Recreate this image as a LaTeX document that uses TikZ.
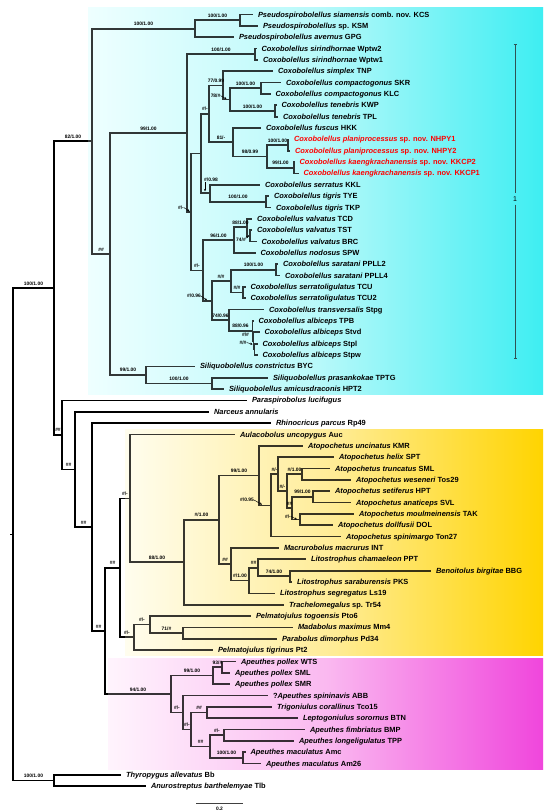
\documentclass[tikz,border=0pt]{standalone}
\usepackage{fontspec}
\setmainfont{Liberation Sans}
\usetikzlibrary{arrows.meta}
\pgfdeclarelayer{boxes}
\pgfdeclarelayer{branches}
\pgfdeclarelayer{tint}
\pgfsetlayers{boxes,branches,tint,main}
\definecolor{cyL}{RGB}{238,255,255}
\definecolor{cyM}{RGB}{185,249,250}
\definecolor{cyR}{RGB}{62,238,242}
\definecolor{yeL}{RGB}{255,253,238}
\definecolor{yeM}{RGB}{255,236,150}
\definecolor{yeR}{RGB}{255,212,0}
\definecolor{piL}{RGB}{255,244,253}
\definecolor{piM}{RGB}{250,185,240}
\definecolor{piR}{RGB}{240,70,220}
\pgfdeclarehorizontalshading{cyanshade}{100bp}{color(0bp)=(cyL); color(25bp)=(cyL); color(50bp)=(cyM); color(75bp)=(cyR); color(100bp)=(cyR)}
\pgfdeclarehorizontalshading{yelshade}{100bp}{color(0bp)=(yeL); color(25bp)=(yeL); color(50bp)=(yeM); color(75bp)=(yeR); color(100bp)=(yeR)}
\pgfdeclarehorizontalshading{pinkshade}{100bp}{color(0bp)=(piL); color(25bp)=(piL); color(50bp)=(piM); color(75bp)=(piR); color(100bp)=(piR)}
\begin{document}
\begin{tikzpicture}[x=1pt,y=-1pt,
  br/.style={line width=1.7pt, line join=miter, black},
  tip/.style={anchor=west, inner xsep=5pt, inner ysep=0pt, outer sep=0pt, text height=5.3pt, text depth=0.2pt, font=\fontsize{7.45}{8.5}\selectfont\bfseries},
  newsp/.style={tip, text=red},
  sup/.style={anchor=base, inner sep=0pt, font=\fontsize{4.9}{5}\selectfont\bfseries},
  mk/.style={line width=0.45pt, -{Stealth[length=2.4pt,width=2.2pt]}},
  cladebar/.style={line width=0.9pt, black!85},
  box/.style={}]
\useasboundingbox (0,0) rectangle (550,811);

% ---------- coloured boxes ----------
\begin{pgfonlayer}{boxes}
  \shade[shading=cyanshade] (88,7) rectangle (543,394.5);
  \shade[shading=yelshade] (125,429) rectangle (543,655.5);
  \shade[shading=pinkshade] (108,658) rectangle (543,769);
\end{pgfonlayer}
\begin{pgfonlayer}{tint}
  \shade[shading=cyanshade, opacity=0.22] (88,7) rectangle (543,394.5);
  \shade[shading=yelshade, opacity=0.22] (125,429) rectangle (543,655.5);
  \shade[shading=pinkshade, opacity=0.22] (108,658) rectangle (543,769);
\end{pgfonlayer}

% ---------- internal nodes ----------
\coordinate (root) at (13,534.37);
\coordinate (rootstub) at (10,534.37);
\coordinate (nA) at (54,288.11);
\coordinate (nTh) at (54,780.63);
\coordinate (nCy) at (92,141.33);
\coordinate (nPs) at (195,28.69);
\coordinate (nPs2) at (240,20.18);
\coordinate (nCS) at (110,253.98);
\coordinate (nCox) at (187,133.10);
\coordinate (nSir) at (255,54.23);
\coordinate (C2) at (191,211.98);
\coordinate (nTop) at (201,153.54);
\coordinate (nAB) at (209,113.81);
\coordinate (n77) at (223,85.44);
\coordinate (n78) at (230,99.63);
\coordinate (nCK) at (261,88.28);
\coordinate (nTe) at (275,110.98);
\coordinate (n81) at (233,142.19);
\coordinate (n98) at (267,156.38);
\coordinate (nNH) at (288,145.03);
\coordinate (nKK) at (294,167.73);
\coordinate (nKL) at (210,193.26);
\coordinate (nTi) at (266,201.78);
\coordinate (nBot) at (203,270.41);
\coordinate (nVa) at (234,240.08);
\coordinate (nTC) at (247,227.31);
\coordinate (nTB) at (250,235.83);
\coordinate (n096) at (212,300.73);
\coordinate (nSS) at (231,281.23);
\coordinate (nSa) at (276,269.88);
\coordinate (nSe) at (243,292.58);
\coordinate (n74) at (229,320.24);
\coordinate (nAl1) at (252.5,330.88);
\coordinate (nAl2) at (253.5,340.81);
\coordinate (nAl3) at (254.5,349.33);
\coordinate (nSi) at (146,374.86);
\coordinate (nSi2) at (212,383.38);
\coordinate (n62) at (62,434.9);
\coordinate (n75) at (75,469.39);
\coordinate (n92) at (92,527.04);
\coordinate (n105) at (105,630.97);
\coordinate (n120) at (120,567.86);
\coordinate (n130) at (130,498.38);
\coordinate (n184) at (184,562.31);
\coordinate (n219) at (219,519.93);
\coordinate (n259) at (259,475.59);
\coordinate (n271) at (271,505.39);
\coordinate (n278) at (278,474.18);
\coordinate (n287) at (287,491.2);
\coordinate (n302) at (302,474.18);
\coordinate (n292) at (292,508.23);
\coordinate (n313) at (313,496.88);
\coordinate (n300) at (300,519.58);
\coordinate (n231) at (231,564.27);
\coordinate (n249) at (249,580.58);
\coordinate (n258) at (258,567.81);
\coordinate (n290) at (290,576.33);
\coordinate (n134) at (134,637.33);
\coordinate (n150) at (150,624.56);
\coordinate (n183) at (183,633.08);
\coordinate (nAp) at (171,694.08);
\coordinate (nPo) at (213,675.64);
\coordinate (nPo2) at (222,667.13);
\coordinate (nA183) at (183,712.53);
\coordinate (nA191) at (191,729.55);
\coordinate (nTB2) at (207,712.53);
\coordinate (nA210) at (210,746.58);
\coordinate (nBT) at (224,735.23);
\coordinate (nMa) at (243,757.93);

% ---------- tips ----------
\node[tip] (t1) at (253,14.5) {\textit{Pseudospirobolellus siamensis} comb. nov. KCS};
\node[tip] (t2) at (258,25.85) {\textit{Pseudospirobolellus} sp. KSM};
\node[tip] (t3) at (234,37.2) {\textit{Pseudospirobolellus avernus} GPG};
\node[tip] (t4) at (256.5,48.55) {\textit{Coxobolellus sirindhornae} Wptw2};
\node[tip] (t5) at (258,59.9) {\textit{Coxobolellus sirindhornae} Wptw1};
\node[tip] (t6) at (273,71.25) {\textit{Coxobolellus simplex} TNP};
\node[tip] (t7) at (281,82.6) {\textit{Coxobolellus compactogonus} SKR};
\node[tip] (t8) at (270.5,93.95) {\textit{Coxobolellus compactogonus} KLC};
\node[tip] (t9) at (276.5,105.3) {\textit{Coxobolellus tenebris} KWP};
\node[tip] (t10) at (278,116.65) {\textit{Coxobolellus tenebris} TPL};
\node[tip] (t11) at (261,128) {\textit{Coxobolellus fuscus} HKK};
\node[newsp] (t12) at (289,139.35) {\textit{Coxobolellus planiprocessus} sp. nov. NHPY1};
\node[newsp] (t13) at (290,150.7) {\textit{Coxobolellus planiprocessus} sp. nov. NHPY2};
\node[newsp] (t14) at (294.5,162.05) {\textit{Coxobolellus kaengkrachanensis} sp. nov. KKCP2};
\node[newsp] (t15) at (298.5,173.4) {\textit{Coxobolellus kaengkrachanensis} sp. nov. KKCP1};
\node[tip] (t16) at (260,184.75) {\textit{Coxobolellus serratus} KKL};
\node[tip] (t17) at (269,196.1) {\textit{Coxobolellus tigris} TYE};
\node[tip] (t18) at (271,207.45) {\textit{Coxobolellus tigris} TKP};
\node[tip] (t19) at (252,218.8) {\textit{Coxobolellus valvatus} TCD};
\node[tip] (t20) at (252,230.15) {\textit{Coxobolellus valvatus} TST};
\node[tip] (t21) at (256.5,241.5) {\textit{Coxobolellus valvatus} BRC};
\node[tip] (t22) at (255.5,252.85) {\textit{Coxobolellus nodosus} SPW};
\node[tip] (t23) at (278,264.2) {\textit{Coxobolellus saratani} PPLL2};
\node[tip] (t24) at (280,275.55) {\textit{Coxobolellus saratani} PPLL4};
\node[tip] (t25) at (245.5,286.9) {\textit{Coxobolellus serratoligulatus} TCU};
\node[tip] (t26) at (245.5,298.25) {\textit{Coxobolellus serratoligulatus} TCU2};
\node[tip] (t27) at (264,309.6) {\textit{Coxobolellus transversalis} Stpg};
\node[tip] (t28) at (253.5,320.95) {\textit{Coxobolellus albiceps} TPB};
\node[tip] (t29) at (259.5,332.3) {\textit{Coxobolellus albiceps} Stvd};
\node[tip] (t30) at (257.5,343.65) {\textit{Coxobolellus albiceps} Stpl};
\node[tip] (t31) at (257.5,355) {\textit{Coxobolellus albiceps} Stpw};
\node[tip] (t32) at (195,366.35) {\textit{Siliquobolellus constrictus} BYC};
\node[tip] (t33) at (268,377.7) {\textit{Siliquobolellus prasankokae} TPTG};
\node[tip] (t34) at (224,389.05) {\textit{Siliquobolellus amicusdraconis} HPT2};
\node[tip] (t35) at (247,400.4) {\textit{Paraspirobolus lucifugus}};
\node[tip] (t36) at (209,411.75) {\textit{Narceus annularis}};
\node[tip] (t37) at (271,423.1) {\textit{Rhinocricus parcus} Rp49};
\node[tip] (t38) at (235,434.45) {\textit{Aulacobolus uncopygus} Auc};
\node[tip] (t39) at (303,445.8) {\textit{Atopochetus uncinatus} KMR};
\node[tip] (t40) at (334,457.15) {\textit{Atopochetus helix} SPT};
\node[tip] (t41) at (330,468.5) {\textit{Atopochetus truncatus} SML};
\node[tip] (t42) at (351,479.85) {\textit{Atopochetus weseneri} Tos29};
\node[tip] (t43) at (330,491.2) {\textit{Atopochetus setiferus} HPT};
\node[tip] (t44) at (351,502.55) {\textit{Atopochetus anaticeps} SVL};
\node[tip] (t45) at (354,513.9) {\textit{Atopochetus moulmeinensis} TAK};
\node[tip] (t46) at (333,525.25) {\textit{Atopochetus dollfusii} DOL};
\node[tip] (t47) at (341,536.6) {\textit{Atopochetus spinimargo} Ton27};
\node[tip] (t48) at (279,547.95) {\textit{Macrurobolus macrurus} INT};
\node[tip] (t49) at (306,559.3) {\textit{Litostrophus chamaeleon} PPT};
\node[tip] (t50) at (431,570.65) {\textit{Benoitolus birgitae} BBG};
\node[tip] (t51) at (292,582) {\textit{Litostrophus saraburensis} PKS};
\node[tip] (t52) at (275,593.35) {\textit{Litostrophus segregatus} Ls19};
\node[tip] (t53) at (284,604.7) {\textit{Trachelomegalus} sp. Tr54};
\node[tip] (t54) at (251,616.05) {\textit{Pelmatojulus togoensis} Pto6};
\node[tip] (t55) at (293,627.4) {\textit{Madabolus maximus} Mm4};
\node[tip] (t56) at (277,638.75) {\textit{Parabolus dimorphus} Pd34};
\node[tip] (t57) at (213,650.1) {\textit{Pelmatojulus tigrinus} Pt2};
\node[tip] (t58) at (236,661.45) {\textit{Apeuthes pollex} WTS};
\node[tip] (t59) at (230,672.8) {\textit{Apeuthes pollex} SML};
\node[tip] (t60) at (230,684.15) {\textit{Apeuthes pollex} SMR};
\node[tip] (t61) at (268,695.5) {?\textit{Apeuthes spininavis} ABB};
\node[tip] (t62) at (272,706.85) {\textit{Trigoniulus corallinus} Tco15};
\node[tip] (t63) at (298,718.2) {\textit{Leptogoniulus sorornus} BTN};
\node[tip] (t64) at (305,729.55) {\textit{Apeuthes fimbriatus} BMP};
\node[tip] (t65) at (294,740.9) {\textit{Apeuthes longeligulatus} TPP};
\node[tip] (t66) at (245.5,752.25) {\textit{Apeuthes maculatus} Amc};
\node[tip] (t67) at (261,763.6) {\textit{Apeuthes maculatus} Am26};
\node[tip] (t68) at (121,774.95) {\textit{Thyropygus allevatus} Bb};
\node[tip] (t69) at (146,786.3) {\textit{Anurostreptus barthelemyae} Tlb};

% ---------- clade bar and scale bar ----------
\coordinate (barT) at (515,44);
\coordinate (barB) at (515,359);
\node[inner sep=3pt, font=\fontsize{7}{8}\selectfont] (one) at (515,199) {1};
\coordinate (sbL) at (196,803.5);
\coordinate (sbR) at (243,803.5);
\node[sup] (sblab) at (219.5,810.6) {0.2};

% ---------- branches ----------
\begin{pgfonlayer}{branches}
  \draw[br] (root) -- (rootstub);
  \foreach \p/\c in {root/nA, root/nTh, nA/nCy, nA/n62, nTh/t68, nTh/t69,
    nCy/nPs, nCy/nCS, nPs/nPs2, nPs/t3, nPs2/t1, nPs2/t2,
    nCS/nCox, nCS/nSi, nCox/nSir, nCox/C2, nSir/t4, nSir/t5,
    C2/nTop, C2/nBot, nTop/nAB, nTop/nKL, nAB/n77, nAB/n81,
    n77/t6, n77/n78, n78/nCK, n78/nTe, nCK/t7, nCK/t8, nTe/t9, nTe/t10,
    n81/t11, n81/n98, n98/nNH, n98/nKK, nNH/t12, nNH/t13, nKK/t14, nKK/t15,
    nKL/t16, nKL/nTi, nTi/t17, nTi/t18,
    nBot/nVa, nBot/n096, nVa/nTC, nVa/t22, nTC/t19, nTC/nTB, nTB/t20, nTB/t21,
    n096/nSS, n096/n74, nSS/nSa, nSS/nSe, nSa/t23, nSa/t24, nSe/t25, nSe/t26,
    n74/t27, n74/nAl1, nAl1/t28, nAl1/nAl2, nAl2/t29, nAl2/nAl3, nAl3/t30, nAl3/t31,
    nSi/t32, nSi/nSi2, nSi2/t33, nSi2/t34,
    n62/t35, n62/n75, n75/t36, n75/n92, n92/t37, n92/n105,
    n105/n120, n105/nAp, n120/n130, n120/n134,
    n130/t38, n130/n184, n184/n219, n184/t53, n219/n259, n219/n231,
    n259/t39, n259/n271, n271/n278, n271/t47, n278/t40, n278/n287,
    n287/n302, n287/n292, n302/t41, n302/t42, n292/n313, n292/n300,
    n313/t43, n313/t44, n300/t45, n300/t46,
    n231/t48, n231/n249, n249/n258, n249/t52, n258/t49, n258/n290, n290/t50, n290/t51,
    n134/n150, n134/t57, n150/t54, n150/n183, n183/t55, n183/t56,
    nAp/nPo, nAp/nA183, nPo/nPo2, nPo/t60, nPo2/t58, nPo2/t59,
    nA183/t61, nA183/nA191, nA191/nTB2, nA191/nA210, nTB2/t62, nTB2/t63,
    nA210/nBT, nA210/nMa, nBT/t64, nBT/t65, nMa/t66, nMa/t67}
    \draw[br] (\p) |- (\c);
  \draw[cladebar, {Bar[width=3pt]}-] (barT) -- (one);
  \draw[cladebar, -{Bar[width=3pt]}] (one) -- (barB);
  \draw[line width=0.8pt, black!75] (sbL) -- (sbR);
\end{pgfonlayer}

% ---------- support values ----------
\node[sup] (s_nPs2) at (217.5,17.2) {100/1.00};
\node[sup] (s_nPs) at (143.5,25.7) {100/1.00};
\node[sup] (s_nSir) at (221,51.2) {100/1.00};
\node[sup] (s_n77) at (216,82.4) {77/0.99};
\node[sup] (s_nCK) at (245.5,85.3) {100/1.00};
\node[sup] (s_nTe) at (252.5,108) {100/1.00};
\node[sup] (s_nAB) at (205,110.8) {\#/-};
\node[sup] (s_n81) at (221,139.2) {81/-};
\node[sup] (s_n98) at (250,153.4) {98/0.99};
\node[sup] (s_nNH) at (277.5,142) {100/1.00};
\node[sup] (s_nKK) at (280.5,164.7) {99/1.00};
\node[sup] (s_nTi) at (238,198.8) {100/1.00};
\node[sup] (s_nTC) at (240.5,224.3) {88/1.00};
\node[sup] (s_nVa) at (218.5,237.1) {96/1.00};
\node[sup] (s_nBot) at (197,267.4) {\#/-};
\node[sup] (s_nSS) at (221,278.2) {\#/\#};
\node[sup] (s_nSa) at (253.5,266.9) {100/1.00};
\node[sup] (s_nSe) at (237,289.6) {\#/\#};
\node[sup] (s_n74) at (220.5,317.2) {74/0.96};
\node[sup] (s_nAl1) at (240.5,327.9) {88/0.96};
\node[sup] (s_nAl2) at (245.5,336.2) {\#/\#};
\node[sup] (s_nCox) at (148.5,130.1) {99/1.00};
\node[sup] (s_nSi) at (128,371.9) {99/1.00};
\node[sup] (s_nSi2) at (179,380.4) {100/1.00};
\node[sup] (s_nCS) at (101,251) {\#\#};
\node[sup] (s_nCy) at (73,138.3) {82/1.00};
\node[sup] (s_nA) at (33.5,285.1) {100/1.00};
\node[sup] (s_nTh) at (33.5,777.6) {100/1.00};
\node[sup] (s_n62) at (58,431.9) {\#\#};
\node[sup] (s_n75) at (68.5,466.4) {\#\#};
\node[sup] (s_n92) at (83.5,524) {\#\#};
\node[sup] (s_n105) at (98.5,628) {\#\#};
\node[sup] (s_n120) at (112.5,564.9) {\#\#};
\node[sup] (s_n130) at (125,495.4) {\#/-};
\node[sup] (s_n134) at (127,634.3) {\#/-};
\node[sup] (s_n150) at (142,621.6) {\#/-};
\node[sup] (s_n183) at (166.5,630.1) {71/\#};
\node[sup] (s_n184) at (157,559.3) {88/1.00};
\node[sup] (s_n219) at (201.5,516.9) {\#/1.00};
\node[sup] (s_n259) at (239,472.6) {99/1.00};
\node[sup] (s_n278) at (274.5,471.2) {\#/-};
\node[sup] (s_n287) at (282.5,488.2) {\#/-};
\node[sup] (s_n302) at (294.5,471.2) {\#/1.00};
\node[sup] (s_n292) at (289.5,505.2) {\#\#};
\node[sup] (s_n313) at (302.5,493.9) {99/1.00};
\node[sup] (s_n231) at (225,561.3) {\#\#};
\node[sup] (s_n249) at (240,577.6) {\#/1.00};
\node[sup] (s_n258) at (253.5,564.8) {\#\#};
\node[sup] (s_n290) at (274,573.3) {74/1.00};
\node[sup] (s_nAp) at (138,691.1) {94/1.00};
\node[sup] (s_nPo) at (192,672.6) {99/1.00};
\node[sup] (s_nPo2) at (217.5,664.1) {93/\#};
\node[sup] (s_nA183) at (177,709.5) {\#/-};
\node[sup] (s_nA191) at (187,726.5) {\#/-};
\node[sup] (s_nTB2) at (199,709.5) {\#\#};
\node[sup] (s_nA210) at (200.5,743.6) {\#\#};
\node[sup] (s_nBT) at (217,732.2) {\#/-};
\node[sup] (s_nMa) at (226.5,754.9) {100/1.00};

% labels with small pointers
\node[sup, anchor=base east] (s_n78) at (220.5,97.4) {78/\#};
\coordinate (m_n78) at (226.5,99.0);
\draw[mk] (s_n78.east) -- (m_n78);
\node[sup] (s_nKL) at (211,181.2) {\#/0.98};
\coordinate (m_nKL) at (205,191.3);
\draw[mk] (205,182.2) -- (m_nKL);
\node[sup, anchor=base east] (s_C2) at (184,209.4) {\#/-};
\coordinate (m_C2) at (189.5,211.2);
\draw[mk] (s_C2.east) -- (m_C2);
\node[sup] (s_nTB) at (241,241.2) {74/\#};
\coordinate (m_nTB) at (248.6,236.6);
\draw[mk] (s_nTB.north east) -- (m_nTB);
\node[sup] (s_n096) at (194,297.7) {\#/0.96};
\coordinate (m_n096) at (207,300.2);
\draw[mk] (s_n096.east) -- (m_n096);
\node[sup] (s_nAl3) at (243,344.2) {\#/\#};
\coordinate (m_nAl3) at (252.6,344.4);
\draw[mk] (s_nAl3.east) -- (m_nAl3);
\node[sup] (s_n271) at (247,501.7) {\#/0.95};
\coordinate (m_n271) at (262,504.6);
\draw[mk] (s_n271.east) -- (m_n271);
\node[sup] (s_n300) at (288,518.2) {\#/-};
\coordinate (m_n300) at (297,519.4);
\draw[mk] (s_n300.east) -- (m_n300);
\end{tikzpicture}
\end{document}
